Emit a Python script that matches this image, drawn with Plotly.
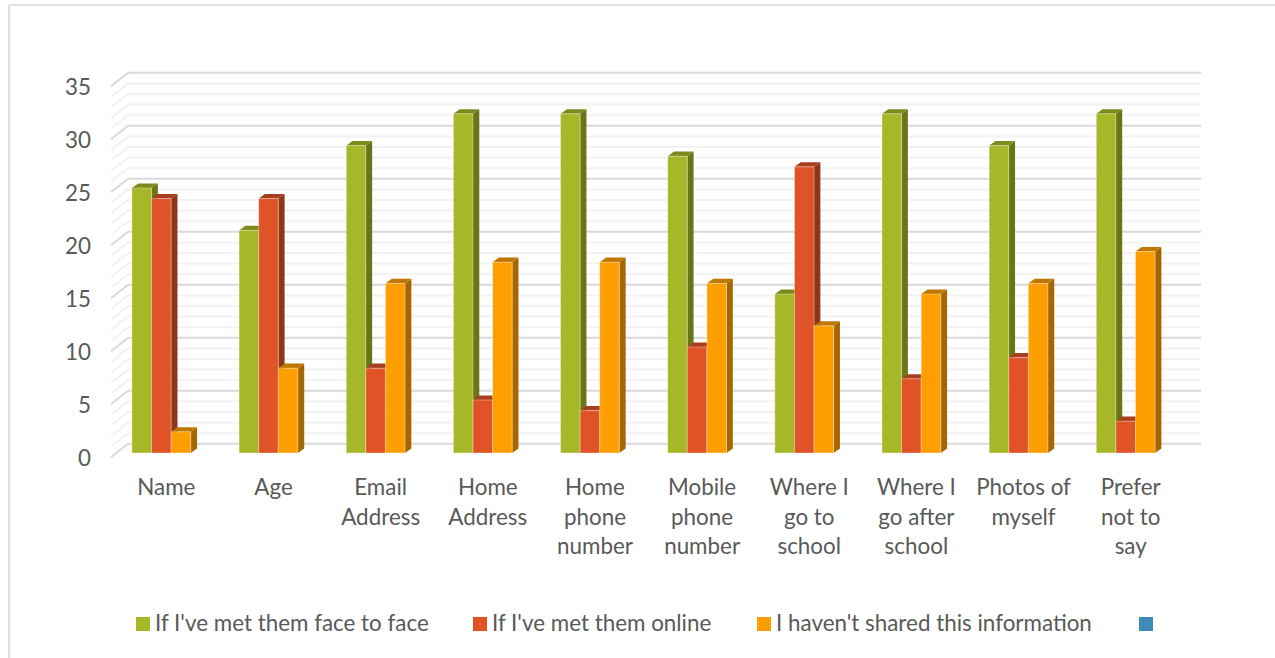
import plotly.graph_objects as go

categories = ["Name", "Age", "Email<br>Address", "Home<br>Address", "Home<br>phone<br>number",
              "Mobile<br>phone<br>number", "Where I<br>go to<br>school", "Where I<br>go after<br>school",
              "Photos of<br>myself", "Prefer<br>not to<br>say"]
face_to_face = [25, 21, 29, 32, 32, 28, 15, 32, 29, 32]
online = [24, 24, 8, 5, 4, 10, 27, 7, 9, 3]
not_shared = [2, 8, 16, 18, 18, 16, 12, 15, 16, 19]
series_names = ["If I've met them face to face", "If I've met them online", "I haven't shared this information", ""]
y_ticks = [0, 5, 10, 15, 20, 25, 30, 35]

COL = ["#A6B727", "#DF5327", "#FE9E00", "#418AB3"]
SIDE = ["#6B7518", "#8F3519", "#A56700"]
TOP = ["#7D8A1C", "#A83E1D", "#BF7700"]
TEXT = "#595959"
FONT = "Lato"
FS = 22.4

W, H = 1275, 658
PL, PR, PT, PB = 100, 1210, 60, 470       # plot rectangle in pixels
X0_PX, STEP_PX = 161.35, 107.15           # group centre for category 0, category step
Y0_PX, UNIT_PX = 453.0, 10.6              # value 0 and height of one unit
BAR_PX = 19.6
xr = [(PL - X0_PX) / STEP_PX, (PR - X0_PX) / STEP_PX]
yr = [(Y0_PX - PB) / UNIT_PX, (Y0_PX - PT) / UNIT_PX]
bw = BAR_PX / STEP_PX
bdx, bdy = 6.3 / STEP_PX, 4.6 / UNIT_PX     # bar depth
wall_dx, wall_dy = (128 - 111) / STEP_PX, 13.5 / UNIT_PX
wall_left_front = (111 - X0_PX) / STEP_PX
wall_front0 = (Y0_PX - 457.3) / UNIT_PX
wall_right = (1201 - X0_PX) / STEP_PX

shapes = []
# walls: gridlines every unit, darker every five
for v in range(0, 36):
    major = v % 5 == 0
    c = "#D9D9D9" if major else "#F2F2F2"
    yb = wall_front0 + wall_dy + v
    yf = wall_front0 + v
    xb = wall_left_front + wall_dx
    shapes.append(dict(type="line", xref="x", yref="y", x0=xb, x1=wall_right, y0=yb, y1=yb,
                       line=dict(color=c, width=2), layer="below"))
    shapes.append(dict(type="line", xref="x", yref="y", x0=wall_left_front, x1=xb, y0=yf, y1=yb,
                       line=dict(color=c, width=2), layer="below"))

# bar sides and tops, front faces are real bars above them
series = [face_to_face, online, not_shared]
for s, vals in enumerate(series):
    for i, v in enumerate(vals):
        x0 = i + (s - 1.5) * bw
        x1 = x0 + bw
        side = f"M{x1},0 L{x1 + bdx},{bdy} L{x1 + bdx},{v + bdy} L{x1},{v} Z"
        top = f"M{x0},{v} L{x1},{v} L{x1 + bdx},{v + bdy} L{x0 + bdx},{v + bdy} Z"
        shapes.append(dict(type="path", xref="x", yref="y", path=side, fillcolor=SIDE[s],
                           line=dict(width=0), layer="below"))
        shapes.append(dict(type="path", xref="x", yref="y", path=top, fillcolor=TOP[s],
                           line=dict(width=0), layer="below"))

frame = [(9, 5, W, 5), (9, 5, 9, H)]
fig = go.Figure()
for s, vals in enumerate(series):
    fig.add_trace(go.Bar(x=list(range(10)), y=vals, name=series_names[s], width=bw,
                         offset=(s - 1.5) * bw,
                         marker=dict(color=COL[s], line=dict(width=1, color="rgba(255,255,255,0.35)")),
                         showlegend=False))

def xp(px):
    return (px - PL) / (PR - PL)

def yp(py):
    return (PB - py) / (PB - PT)

for x0, y0, x1, y1 in frame:
    shapes.append(dict(type="line", xref="paper", yref="paper", x0=xp(x0), x1=xp(x1), y0=yp(y0), y1=yp(y1),
                       line=dict(color="#E0E0E0", width=2), layer="below"))

# legend row
legend_x = [136, 473, 757, 1139]
annotations = []
for s, (lx, name) in enumerate(zip(legend_x, series_names)):
    shapes.append(dict(type="rect", xref="paper", yref="paper", x0=xp(lx), x1=xp(lx + 14),
                       y0=yp(631), y1=yp(617), fillcolor=COL[s], line=dict(width=0)))
    if name:
        annotations.append(dict(xref="paper", yref="paper", x=xp(lx + 17), y=yp(622), text=name, showarrow=False,
                                xanchor="left", yanchor="middle", font=dict(family=FONT, size=FS, color=TEXT)))

fig.update_layout(
    width=W, height=H, autosize=False, paper_bgcolor="white", plot_bgcolor="white",
    margin=dict(l=PL, r=W - PR, t=PT, b=H - PB, pad=0),
    barmode="overlay", shapes=shapes, annotations=annotations, showlegend=False,
    font=dict(family=FONT, size=FS, color=TEXT),
    xaxis=dict(range=xr, tickmode="array", tickvals=list(range(10)), ticktext=categories, showgrid=False,
               zeroline=False, showline=False, ticks="", ticklen=0, tickangle=0, ticklabelshift=5,
               ticklabelstandoff=2, tickfont=dict(family=FONT, size=FS, color=TEXT)),
    yaxis=dict(range=yr, tickmode="array", tickvals=y_ticks, showgrid=False, zeroline=False, showline=False,
               ticks="", ticklen=0, ticklabelshift=5, ticklabelstandoff=8,
               tickfont=dict(family=FONT, size=FS, color=TEXT)),
)
fig.write_html("out.html", config={"displayModeBar": False},
               post_script="document.body.style.margin='0';document.body.style.overflow='hidden';")
